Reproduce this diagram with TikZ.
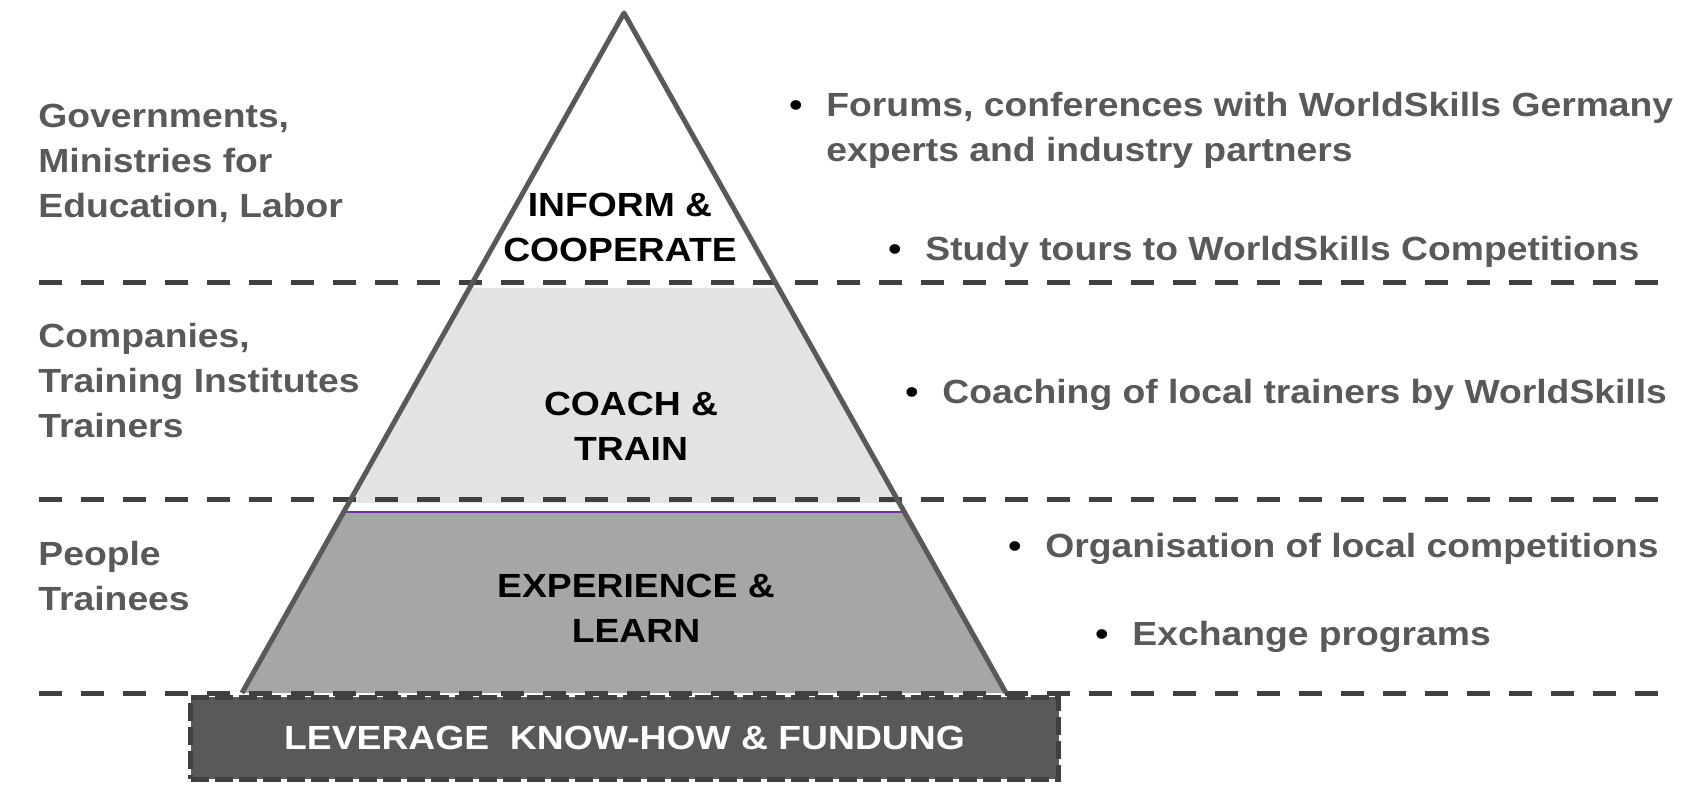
\documentclass[tikz,border=0pt]{standalone}
\usepackage{fontspec}
\setmainfont{Liberation Sans}[FakeStretch=1.113]
\usepackage{xcolor}
\usetikzlibrary{calc}

\definecolor{txtgray}{HTML}{595959}
\definecolor{dashgray}{HTML}{404040}
\definecolor{bandlight}{HTML}{E3E3E3}
\definecolor{bandmid}{HTML}{A6A6A6}
\definecolor{edgepurple}{HTML}{7030A0}

\newcommand{\bul}{\makebox[18.5pt][l]{\color{black}\textbullet}}

\tikzset{
  bigfont/.style={font=\bfseries\fontsize{16.75}{22.5}\selectfont},
  sidelabel/.style={bigfont, inner sep=0pt, anchor=base west, align=left, text=txtgray},
  levellabel/.style={bigfont, inner sep=0pt, anchor=base, align=center, text=black},
  bulletitem/.style={bigfont, inner sep=0pt, anchor=base west, align=left, text=txtgray},
  layerline/.style={dashgray, line width=2.5pt, dash pattern=on 11.5pt off 9.5pt},
}

\begin{document}
\begin{tikzpicture}[x=0.5pt, y=-0.5pt]
    \useasboundingbox (0,0) rectangle (1690,785);
    % Pyramid corners
    \coordinate (apex) at (624,13);
    \coordinate (bl) at (242,693);
    \coordinate (br) at (1006,693);

    % Bands
    \fill[bandlight] ($(apex)!0.4044!(bl)$) -- ($(apex)!0.4044!(br)$) -- ($(apex)!0.7206!(br)$) -- ($(apex)!0.7206!(bl)$) -- cycle;
    \fill[bandmid] ($(apex)!0.7338!(bl)$) -- ($(apex)!0.7338!(br)$) -- (br) -- (bl) -- cycle;
    \draw[edgepurple, line width=0.6pt] ($(apex)!0.7338!(bl)$) -- ($(apex)!0.7338!(br)$);

    % Layer lines
    \foreach \y in {283,499,693}
        \draw[layerline] (39,\y) -- (1660,\y);

    % Outline
    \draw[txtgray, line width=2.5pt, line join=round] (bl) -- (apex) -- (br);

    % Base
    \node[draw=dashgray, fill=txtgray, line width=2.5pt, dash pattern=on 9pt off 3pt, minimum width=434pt, minimum height=41pt, inner sep=0pt, bigfont, text=white] (lever) at (624.5,738) {LEVERAGE\ \ KNOW-HOW \& FUNDUNG};

    % Levels (base = last line)
    \node[levellabel] (inform) at (620,262) {INFORM \&\\COOPERATE};
    \node[levellabel] (coach) at (631,461) {COACH \&\\TRAIN};
    \node[levellabel] (exper) at (636,642) {EXPERIENCE \&\\LEARN};

    % Who
    \node[sidelabel] (govt) at (38,218) {Governments,\\Ministries for\\Education, Labor};
    \node[sidelabel] (comp) at (38,438) {Companies,\\Training Institutes\\Trainers};
    \node[sidelabel] (people) at (38,610) {People\\Trainees};

    % Measures
    \node[bulletitem] (forums) at (789,162) {\bul Forums, conferences with WorldSkills Germany\\\hspace*{18.5pt}experts and industry partners};
    \node[bulletitem] (tours) at (888,261) {\bul Study tours to WorldSkills Competitions};
    \node[bulletitem] (coaching) at (905,404) {\bul Coaching of local trainers by WorldSkills};
    \node[bulletitem] (organis) at (1008,557) {\bul Organisation of local competitions};
    \node[bulletitem] (exchange) at (1095,645) {\bul Exchange programs};
\end{tikzpicture}
\end{document}
